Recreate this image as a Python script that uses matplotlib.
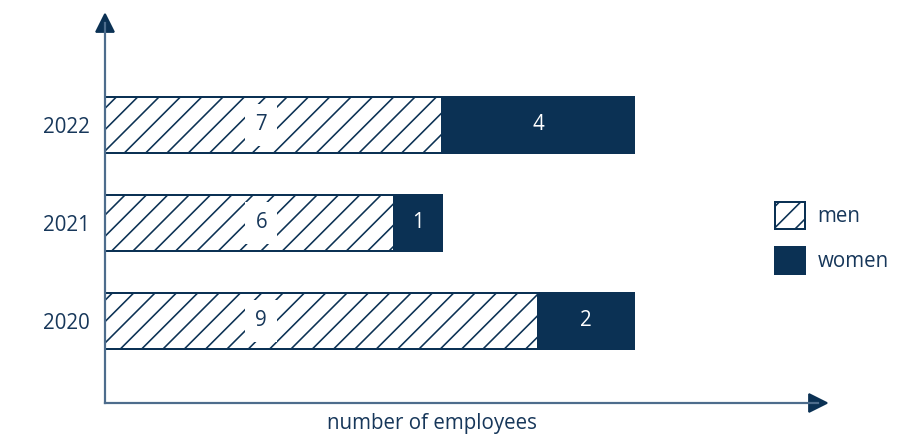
import matplotlib.pyplot as plt

years = ['2020', '2021', '2022']
men = [9, 6, 7]
women = [2, 1, 4]

navy = '#0b3154'
axis_col = '#4d6c8c'
text_col = '#17375a'

DPI = 128
W, H = 906, 434


def px(v):
    # pixel size -> points at the chosen dpi
    return v * 72 / DPI


plt.rcParams['font.family'] = ['Open Sans', 'DejaVu Sans']
plt.rcParams['hatch.linewidth'] = px(1.6)
plt.rcParams['hatch.color'] = navy

fig = plt.figure(figsize=(W / DPI, H / DPI), dpi=DPI)
# axes placed so that the axis lines sit where the reference puts them
ax = fig.add_axes([105 / W, 1 - 403 / H, (818 - 105) / W, (403 - 23) / H])

ypos = list(range(len(years)))
bar_h = 0.57
fs = px(20.5)
ax.barh(ypos, men, height=bar_h, color='white', edgecolor=navy, hatch='//', linewidth=px(2), label='men')
ax.barh(ypos, women, left=men, height=bar_h, color=navy, edgecolor=navy, linewidth=px(2), label='women')

for y, m, w in zip(ypos, men, women):
    ax.text(3.25, y, str(m), ha='center', va='center', fontsize=fs, color=text_col,
            bbox=dict(boxstyle='square,pad=0.5', facecolor='white', edgecolor='none'))
    ax.text(m + w / 2, y, str(w), ha='center', va='center', fontsize=fs, color='white')

ax.set_xlim(0, (818 - 105) / 48.1)
ax.set_ylim(-0.837, 3.04)
ax.set_yticks(ypos)
ax.set_yticklabels(years, fontsize=fs, color=text_col)
ax.tick_params(axis='y', length=0, pad=px(15))
ax.set_xticks([])

for s in ['top', 'right']:
    ax.spines[s].set_visible(False)
for s in ['left', 'bottom']:
    ax.spines[s].set_color(axis_col)
    ax.spines[s].set_linewidth(px(2.2))

# arrow heads
ax.plot(1, 0, marker='>', markersize=px(18), color=navy, transform=ax.transAxes, clip_on=False)
ax.plot(0, 1, marker='^', markersize=px(18), color=navy, transform=ax.transAxes, clip_on=False)

fig.text(432 / W, 1 - 423 / H, 'number of employees', ha='center', va='center',
         fontsize=fs, color=text_col)

ax.legend(loc='center left', bbox_to_anchor=(757 / W, 1 - 238 / H), bbox_transform=fig.transFigure,
          frameon=False, fontsize=fs, handlelength=1.45, handleheight=1.65, labelspacing=0.9,
          handletextpad=0.6, labelcolor=text_col)

fig.savefig('out.png', dpi=DPI)
